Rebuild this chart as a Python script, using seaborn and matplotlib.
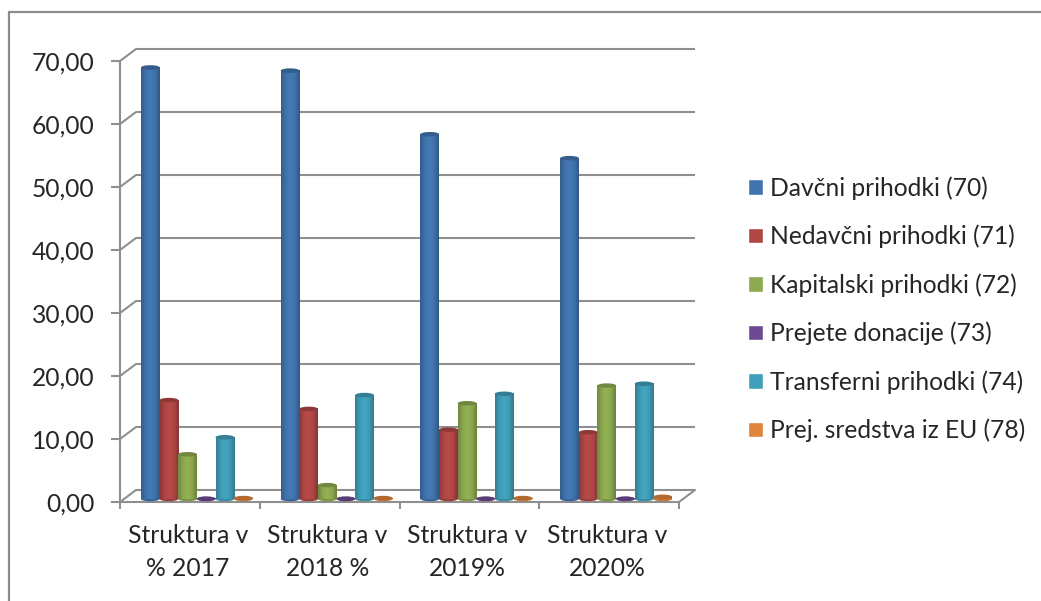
import numpy as np
import pandas as pd
import matplotlib
matplotlib.use("Agg")
import matplotlib.pyplot as plt
import seaborn as sns
from matplotlib.colors import LinearSegmentedColormap, to_rgb
from matplotlib.lines import Line2D
from matplotlib.patches import Ellipse
from matplotlib.transforms import ScaledTranslation

categories = ["Struktura v\n% 2017", "Struktura v\n2018 %", "Struktura v\n2019%", "Struktura v\n2020%"]
series_names = ["Davčni prihodki (70)", "Nedavčni prihodki (71)", "Kapitalski prihodki (72)",
                "Prejete donacije (73)", "Transferni prihodki (74)", "Prej. sredstva iz EU (78)"]
davcni = [68.5, 68.0, 57.9, 54.1]
nedavcni = [15.7, 14.3, 11.0, 10.6]
kapitalski = [7.1, 2.2, 15.2, 18.0]
donacije = [0.05, 0.05, 0.05, 0.05]
transferni = [9.8, 16.5, 16.7, 18.3]
eu = [0.15, 0.15, 0.15, 0.35]
colors = ["#4174AE", "#B04745", "#8DAA50", "#6F4A94", "#419EB8", "#DF853C"]
yticks = [0, 10, 20, 30, 40, 50, 60, 70]
ytick_labels = ["0,00", "10,00", "20,00", "30,00", "40,00", "50,00", "60,00", "70,00"]

W, H = 1041, 601
GRID = "#8F8F8F"
TXT = "#262626"
FS = 17.7

sns.set_theme(style="white")
plt.rcParams["font.family"] = ["Lato", "DejaVu Sans"]

df = pd.DataFrame({"cat": categories, **dict(zip(series_names, [davcni, nedavcni, kapitalski, donacije, transferni, eu]))})
long = df.melt(id_vars="cat", var_name="series", value_name="value")

fig = plt.figure(figsize=(W / 100, H / 100), dpi=100)
fig.patch.set_facecolor("white")
L, R, T, B = 120, 679, 61, 502
ax = fig.add_axes([L / W, 1 - B / H, (R - L) / W, (B - T) / H])
sns.barplot(data=long, x="cat", y="value", hue="series", hue_order=series_names, order=categories,
            palette=colors, width=0.8, saturation=1, errorbar=None, ax=ax, zorder=3)
ax.set_xlim(-0.5, 3.5)
ax.set_ylim(0, 70)
ax.patch.set_alpha(0)


def px(dx, dy):
    return ax.transData + ScaledTranslation(dx / 100, dy / 100, fig.dpi_scale_trans)


# back wall gridlines and the depth lines
DX, DY = 16, 12
back = px(DX, DY)
ax.hlines(yticks, -0.5, 3.5, colors=GRID, lw=1.5, transform=back, zorder=1, clip_on=False)
for v in yticks:
    ax.add_line(Line2D([-0.5, -0.5 + DX / 139.75], [v, v + DY / 6.3], color=GRID, lw=1.5, zorder=1, clip_on=False))
ax.add_line(Line2D([3.5, 3.5 + DX / 139.75], [0, DY / 6.3], color=GRID, lw=1.5, zorder=1, clip_on=False))

# cylinders
bar_shift = px(7, 3)
handles, labels = ax.get_legend_handles_labels()
for container, col in zip(ax.containers, colors):
    rgb = np.array(to_rgb(col))
    cmap = LinearSegmentedColormap.from_list(
        "c", [rgb * 0.8, rgb * 0.98, np.minimum(rgb * 1.05, 1), rgb * 0.98, rgb * 0.76])
    grad = np.linspace(0, 1, 40)[None, :]
    for patch in container:
        x0, w, h = patch.get_x(), patch.get_width(), patch.get_height()
        patch.set_visible(False)
        ax.imshow(grad, extent=(x0, x0 + w, 0, h), aspect="auto", cmap=cmap, transform=bar_shift,
                  zorder=3, clip_on=False, interpolation="bilinear")
        ell_h = 4.5 / 6.3
        ax.add_patch(Ellipse((x0 + w / 2, 0), w, ell_h, facecolor=rgb * 0.88, edgecolor="none",
                             transform=bar_shift, zorder=2.9, clip_on=False))
        ax.add_patch(Ellipse((x0 + w / 2, h), w, ell_h, facecolor=rgb * 0.8, edgecolor="none",
                             transform=bar_shift, zorder=3.1, clip_on=False))
ax.set_xlim(-0.5, 3.5)
ax.set_ylim(0, 70)

# axes
sns.despine(ax=ax, top=True, right=True)
for s in ("left", "bottom"):
    ax.spines[s].set_color(GRID)
    ax.spines[s].set_linewidth(1.5)
ax.set_xlabel("")
ax.set_ylabel("")
ax.set_yticks(yticks, ytick_labels)
ax.tick_params(axis="y", left=True, length=6.5, width=1.5, color=GRID, labelsize=FS, labelcolor=TXT, pad=12)
ax.set_xticks(range(4), categories)
ax.tick_params(axis="x", bottom=False, labelsize=FS, labelcolor=TXT, pad=10)
ax.set_xticks([-0.5, 0.5, 1.5, 2.5, 3.5], minor=True)
ax.tick_params(axis="x", which="minor", bottom=True, length=5, width=1.5, color=GRID)
for lab in ax.get_xticklabels():
    lab.set_linespacing(1.5)
    lab.set_transform(lab.get_transform() + ScaledTranslation(-2 / 100, 0, fig.dpi_scale_trans))

# legend
leg = ax.legend(handles, labels, loc="upper left", bbox_to_anchor=(748 / W, 1 - 176 / H),
                bbox_transform=fig.transFigure, frameon=False, fontsize=FS, labelcolor=TXT,
                handlelength=0.6, handleheight=0.6, handletextpad=0.3, labelspacing=1.015,
                borderpad=0, borderaxespad=0)

# outer frame of the chart
for xs, ys in (([9, 9], [12, H]), ([9, W], [12, 12])):
    fig.add_artist(Line2D([x / W for x in xs], [1 - y / H for y in ys], color="#8C8C8C", lw=1.6))

fig.savefig("out.png", dpi=100)
